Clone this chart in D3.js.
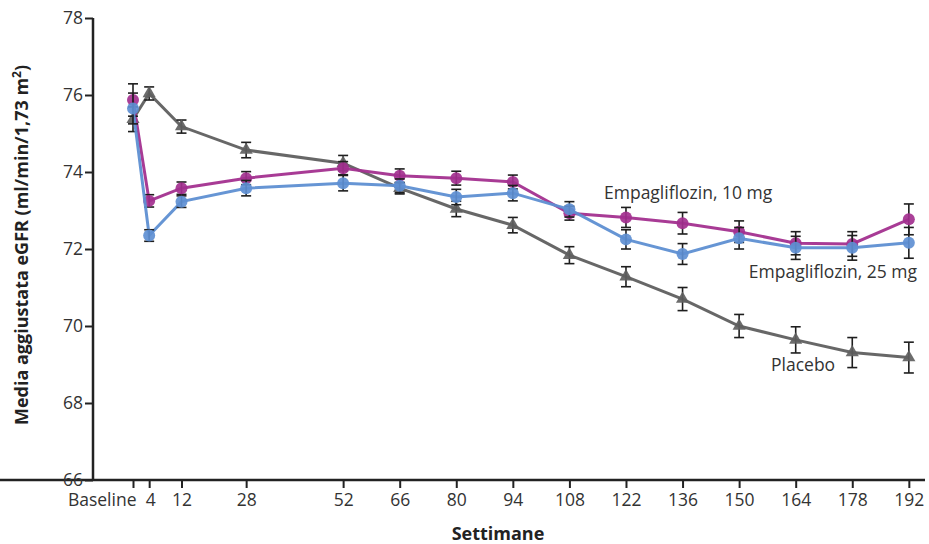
<!DOCTYPE html>
<html><head><meta charset="utf-8">
<script src="https://cdn.jsdelivr.net/npm/d3@7"></script>
<style>body{margin:0;background:#fff}svg{display:block}text{font-family:"Open Sans","Noto Sans",sans-serif}</style>
</head><body><svg id="c" width="929" height="544"></svg>
<script>
const weeks = [0, 4, 12, 28, 52, 66, 80, 94, 108, 122, 136, 150, 164, 178, 192];
const tickLabels = ["Baseline","4","12","28","52","66","80","94","108","122","136","150","164","178","192"];
const yTicks = [66, 68, 70, 72, 74, 76, 78];
const placebo    = [75.37, 76.04, 75.18, 74.57, 74.23, 73.58, 73.04, 72.62, 71.84, 71.28, 70.70, 70.00, 69.64, 69.31, 69.18];
const placeboErr = [0.32, 0.17, 0.17, 0.20, 0.20, 0.15, 0.20, 0.20, 0.22, 0.26, 0.30, 0.30, 0.34, 0.39, 0.40];
const empa10     = [75.87, 73.25, 73.58, 73.84, 74.10, 73.90, 73.84, 73.74, 72.93, 72.82, 72.67, 72.45, 72.15, 72.13, 72.77];
const empa10Err  = [0.42, 0.16, 0.16, 0.17, 0.17, 0.18, 0.18, 0.18, 0.18, 0.26, 0.28, 0.28, 0.30, 0.32, 0.40];
const empa25     = [75.65, 72.35, 73.23, 73.58, 73.71, 73.64, 73.35, 73.45, 73.03, 72.25, 71.87, 72.28, 72.03, 72.03, 72.16];
const empa25Err  = [0.40, 0.15, 0.15, 0.20, 0.20, 0.18, 0.20, 0.20, 0.20, 0.25, 0.27, 0.28, 0.30, 0.32, 0.40];
const seriesNames = ["Placebo", "Empagliflozin, 10 mg", "Empagliflozin, 25 mg"];

const svg = d3.select("#c");
const x = d3.scaleLinear().domain([-9.9, 196]).range([93, 925]);
const y = d3.scaleLinear().domain([66, 78]).range([480, 18]);
const FS = 17.5;

// axes
const gx = svg.append("g").attr("transform","translate(0,480)")
  .call(d3.axisBottom(x).tickValues(weeks).tickFormat((d,i)=>tickLabels[i]).tickSize(8).tickSizeOuter(0).tickPadding(6));
const gy = svg.append("g").attr("transform","translate(93,0)")
  .call(d3.axisLeft(y).tickValues(yTicks).tickFormat(d3.format("d")).tickSize(8).tickSizeOuter(0).tickPadding(2));
[gx, gy].forEach(g=>{
  g.select(".domain").attr("stroke","#222").attr("stroke-width",2.5);
  g.selectAll(".tick line").attr("stroke","#222").attr("stroke-width",2);
  g.selectAll(".tick text").attr("fill","#333").attr("font-size",FS).style("font-family","'Open Sans','Noto Sans',sans-serif");
});
// Baseline label right-aligned just left of its tick; "4" nudged right
gx.selectAll(".tick text").filter((d,i)=>i===0).attr("text-anchor","end").attr("x",3);
gx.selectAll(".tick text").filter((d,i)=>i===1).attr("x",1);
gy.select(".domain").attr("d","M0,18V481");
gx.select(".domain").attr("d","M0,0H925");

// axis titles
svg.append("text").attr("x",498).attr("y",540).attr("text-anchor","middle")
  .attr("font-size",18).attr("font-weight","bold").attr("fill","#222").text("Settimane");
const yl = svg.append("text").attr("transform","translate(28,245) rotate(-90)").attr("text-anchor","middle")
  .attr("font-size",18).attr("font-weight","bold").attr("fill","#222");
yl.append("tspan").text("Media aggiustata eGFR (ml/min/1,73 m");
yl.append("tspan").attr("font-size",12).attr("dy",-7).text("2");
yl.append("tspan").attr("dy",7).text(")");

const series = [
  {name: seriesNames[0], v: placebo, e: placeboErr, color:"#5f5f5f", shape:"tri"},
  {name: seriesNames[1], v: empa10, e: empa10Err, color:"#a3308f", shape:"circle"},
  {name: seriesNames[2], v: empa25, e: empa25Err, color:"#5e8fd2", shape:"circle"}
];
const line = d3.line().x((d,i)=>x(weeks[i])).y(d=>y(d));
series.forEach(s=>{
  const g = svg.append("g");
  g.append("path").datum(s.v).attr("d",line).attr("fill","none").attr("stroke",s.color).attr("stroke-width",3).attr("opacity",0.95);
  const eb = g.selectAll(".eb").data(s.v).enter().append("g");
  eb.append("line").attr("x1",(d,i)=>x(weeks[i])).attr("x2",(d,i)=>x(weeks[i]))
    .attr("y1",(d,i)=>y(d+s.e[i])).attr("y2",(d,i)=>y(d-s.e[i])).attr("stroke","#1e1e1e").attr("stroke-width",1.6);
  [1,-1].forEach(sg=>{
    eb.append("line").attr("x1",(d,i)=>x(weeks[i])-5).attr("x2",(d,i)=>x(weeks[i])+5)
      .attr("y1",(d,i)=>y(d+sg*s.e[i])).attr("y2",(d,i)=>y(d+sg*s.e[i])).attr("stroke","#1e1e1e").attr("stroke-width",1.6);
  });
  if(s.shape==="circle"){
    g.selectAll(".m").data(s.v).enter().append("circle").attr("cx",(d,i)=>x(weeks[i])).attr("cy",d=>y(d))
      .attr("r",6).attr("fill",s.color).attr("opacity",0.92);
  } else {
    const tri = d3.symbol().type(d3.symbolTriangle).size(75);
    g.selectAll(".m").data(s.v).enter().append("path").attr("d",tri)
      .attr("transform",(d,i)=>`translate(${x(weeks[i])},${y(d)})`).attr("fill",s.color).attr("opacity",0.92);
  }
});

// labels
svg.append("text").attr("x",604).attr("y",199).attr("font-size",FS).attr("fill","#333").text(seriesNames[1]);
svg.append("text").attr("x",917).attr("y",278).attr("text-anchor","end").attr("font-size",FS).attr("fill","#333").text(seriesNames[2]);
svg.append("text").attr("x",771).attr("y",371).attr("font-size",FS).attr("fill","#333").text(seriesNames[0]);
</script></body></html>
